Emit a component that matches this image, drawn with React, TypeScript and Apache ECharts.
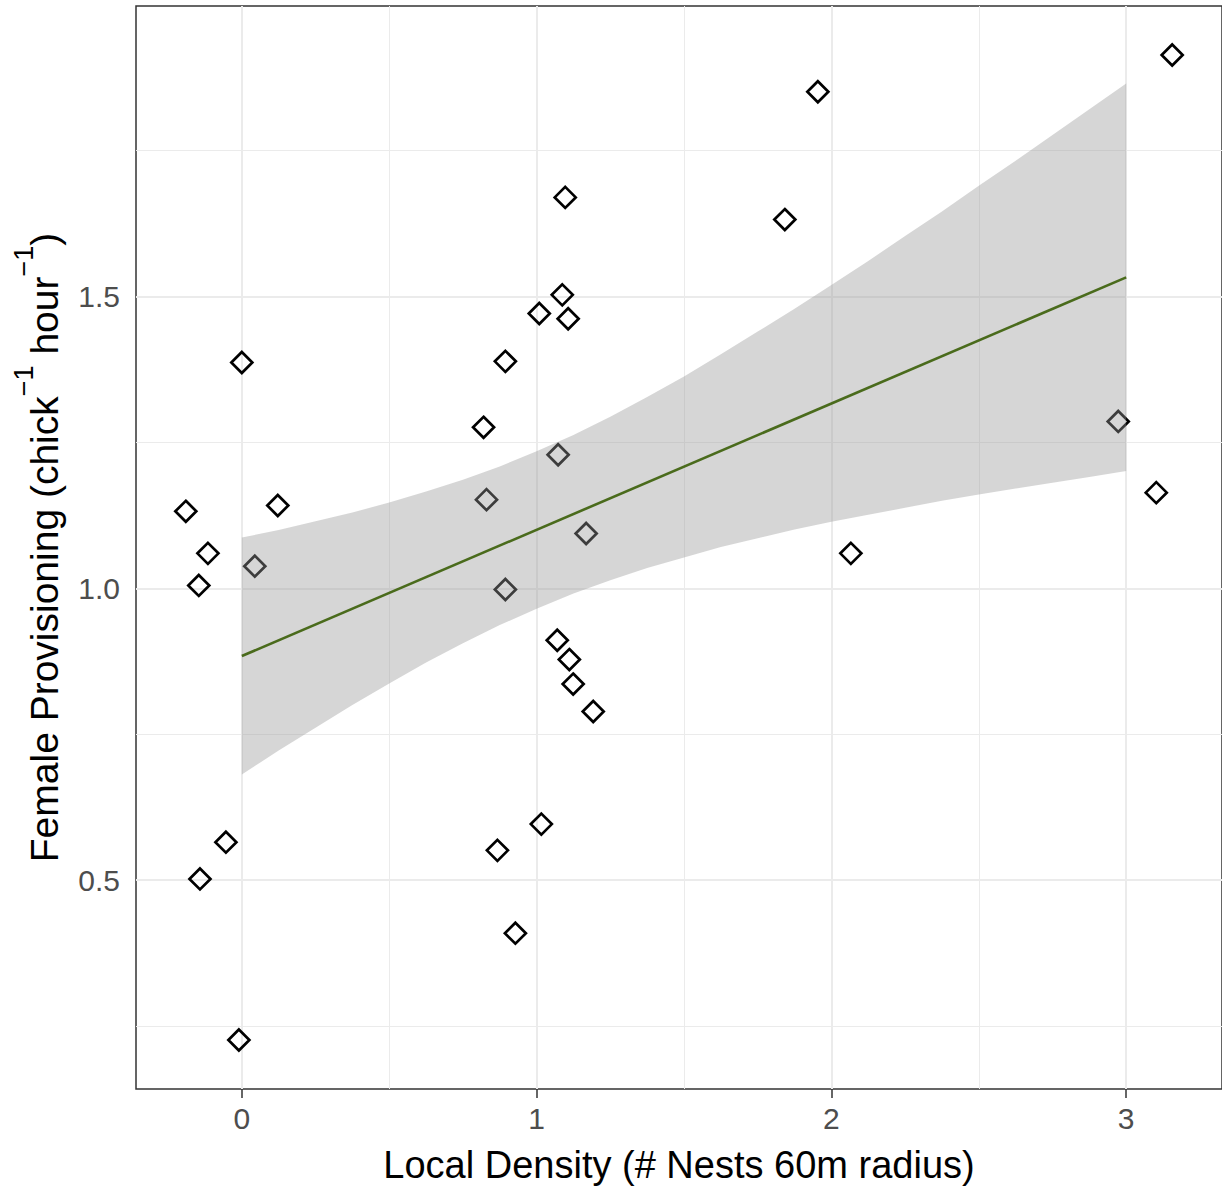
import React, { useEffect, useRef } from "react";
import * as echarts from "echarts";

// Observed points (jittered local density vs female provisioning)
const densityX = [3.156, 1.954, 1.097, 1.842, 1.087, 1.009, 1.107, 0.894, 0.0, 0.82, 2.973, 1.073, -0.19, 0.122, 0.83, 3.102, 1.168, -0.115, 2.066, 0.044, -0.146, 0.894, 1.07, 1.111, 1.124, 1.192, 1.016, -0.054, 0.867, -0.142, 0.928, -0.01];
const provisioningY = [1.914, 1.851, 1.67, 1.632, 1.503, 1.471, 1.462, 1.389, 1.387, 1.276, 1.286, 1.229, 1.132, 1.142, 1.152, 1.164, 1.094, 1.06, 1.06, 1.038, 1.005, 0.998, 0.911, 0.878, 0.836, 0.789, 0.596, 0.565, 0.551, 0.502, 0.409, 0.226];

// Fitted line (lm) and its confidence band
const fitX = [0, 3];
const fitY = [0.884, 1.533];
const bandX = [0, 0.125, 0.25, 0.375, 0.5, 0.625, 0.75, 0.875, 1.0, 1.125, 1.25, 1.375, 1.5, 1.625, 1.75, 1.875, 2.0, 2.125, 2.25, 2.375, 2.5, 2.625, 2.75, 2.875, 3.0];
const bandLow = [0.681, 0.722, 0.761, 0.8, 0.837, 0.873, 0.906, 0.937, 0.965, 0.991, 1.014, 1.035, 1.053, 1.071, 1.086, 1.101, 1.114, 1.126, 1.138, 1.15, 1.161, 1.171, 1.181, 1.191, 1.201];
const bandHigh = [1.087, 1.1, 1.115, 1.13, 1.147, 1.166, 1.186, 1.209, 1.235, 1.263, 1.294, 1.328, 1.363, 1.401, 1.44, 1.479, 1.52, 1.561, 1.604, 1.646, 1.69, 1.733, 1.777, 1.821, 1.865];

// Axes
const xTicks = [0, 1, 2, 3];
const xMinor = [0.5, 1.5, 2.5];
const yTicks = [0.5, 1.0, 1.5];
const yMinor = [0.25, 0.75, 1.25, 1.75];
const X_MIN = -0.359;
const X_MAX = 3.325;
const Y_MIN = 0.142;
const Y_MAX = 1.998;

const FONT = "'Liberation Sans', Arial, sans-serif";

export default function App() {
  const ref = useRef<HTMLDivElement>(null);
  useEffect(() => {
    if (!ref.current) return;
    const chart = echarts.init(ref.current, undefined, { renderer: "svg" });
    const major = { color: "#ebebeb", width: 2, type: "solid" };
    const minor = { color: "#ebebeb", width: 1, type: "solid" };
    const gridLines = [
      ...xTicks.map((v) => ({ xAxis: v, lineStyle: major })),
      ...xMinor.map((v) => ({ xAxis: v, lineStyle: minor })),
      ...yTicks.map((v) => ({ yAxis: v, lineStyle: major })),
      ...yMinor.map((v) => ({ yAxis: v, lineStyle: minor })),
    ];
    const option: any = {
      animation: false,
      backgroundColor: "#ffffff",
      grid: {
        left: 136,
        top: 6,
        width: 1088,
        height: 1084,
        show: true,
        borderColor: "#333333",
        borderWidth: 1.5,
        backgroundColor: "transparent",
      },
      xAxis: {
        type: "value",
        min: X_MIN,
        max: X_MAX,
        name: "Local Density (# Nests 60m radius)",
        nameLocation: "middle",
        nameGap: 57,
        nameTextStyle: { fontSize: 38, color: "#000000", fontFamily: FONT },
        axisLine: { show: false },
        axisTick: { show: true, length: 9, customValues: xTicks, lineStyle: { color: "#333333", width: 1.5 } },
        axisLabel: {
          customValues: xTicks,
          fontSize: 30,
          color: "#4d4d4d",
          fontFamily: FONT,
          margin: 14,
          formatter: (v: number) => String(v),
        },
        splitLine: { show: false },
      },
      yAxis: {
        type: "value",
        min: Y_MIN,
        max: Y_MAX,
        name: "{a|Female Provisioning (chick}{s|\u22121}{a| hour}{s|\u22121}{a|)}",
        nameLocation: "middle",
        nameRotate: 90,
        nameGap: 72,
        nameTextStyle: {
          color: "#000000",
          fontFamily: FONT,
          rich: {
            a: { fontSize: 39, fontFamily: FONT, color: "#000000", lineHeight: 54, verticalAlign: "bottom" },
            s: { fontSize: 27, fontFamily: FONT, color: "#000000", lineHeight: 30, verticalAlign: "top" },
          },
        },
        axisLine: { show: false },
        axisTick: { show: true, length: 9, customValues: yTicks, lineStyle: { color: "#333333", width: 1.5 } },
        axisLabel: {
          customValues: yTicks,
          fontSize: 30,
          color: "#4d4d4d",
          fontFamily: FONT,
          margin: 16,
          formatter: (v: number) => v.toFixed(1),
        },
        splitLine: { show: false },
      },
      series: [
        {
          type: "scatter",
          name: "points",
          z: 2,
          symbol: "diamond",
          symbolSize: 21,
          itemStyle: { color: "rgba(0,0,0,0)", borderColor: "#000000", borderWidth: 2.7, opacity: 1 },
          emphasis: { disabled: true },
          silent: true,
          data: densityX.map((x, i) => [x, provisioningY[i]]),
          markLine: {
            silent: true,
            z: 1,
            symbol: ["none", "none"],
            label: { show: false },
            emphasis: { disabled: true },
            data: gridLines,
          },
        },
        {
          type: "custom",
          name: "band",
          z: 3,
          silent: true,
          data: [[bandX[0], bandLow[0], bandHigh[0]]],
          encode: { x: 0, y: [1, 2] },
          renderItem: (params: any, api: any) => {
            const upper = bandX.map((x, i) => api.coord([x, bandHigh[i]]));
            const lower = bandX.map((x, i) => api.coord([x, bandLow[i]])).reverse();
            return {
              type: "polygon",
              shape: { points: upper.concat(lower) },
              style: { fill: "rgba(153,153,153,0.4)", stroke: "none" },
            };
          },
        },
        {
          type: "line",
          name: "fit",
          z: 4,
          symbol: "none",
          silent: true,
          lineStyle: { color: "#4a6b1c", width: 2.6 },
          data: fitX.map((x, i) => [x, fitY[i]]),
        },
      ],
    };
    chart.setOption(option);
    return () => chart.dispose();
  }, []);
  return (
    <div style={{ position: "fixed", left: 0, top: 0, width: 1222, height: 1189, overflow: "hidden", background: "#fff" }}>
      <div ref={ref} style={{ width: 1222, height: 1189 }} />
    </div>
  );
}
